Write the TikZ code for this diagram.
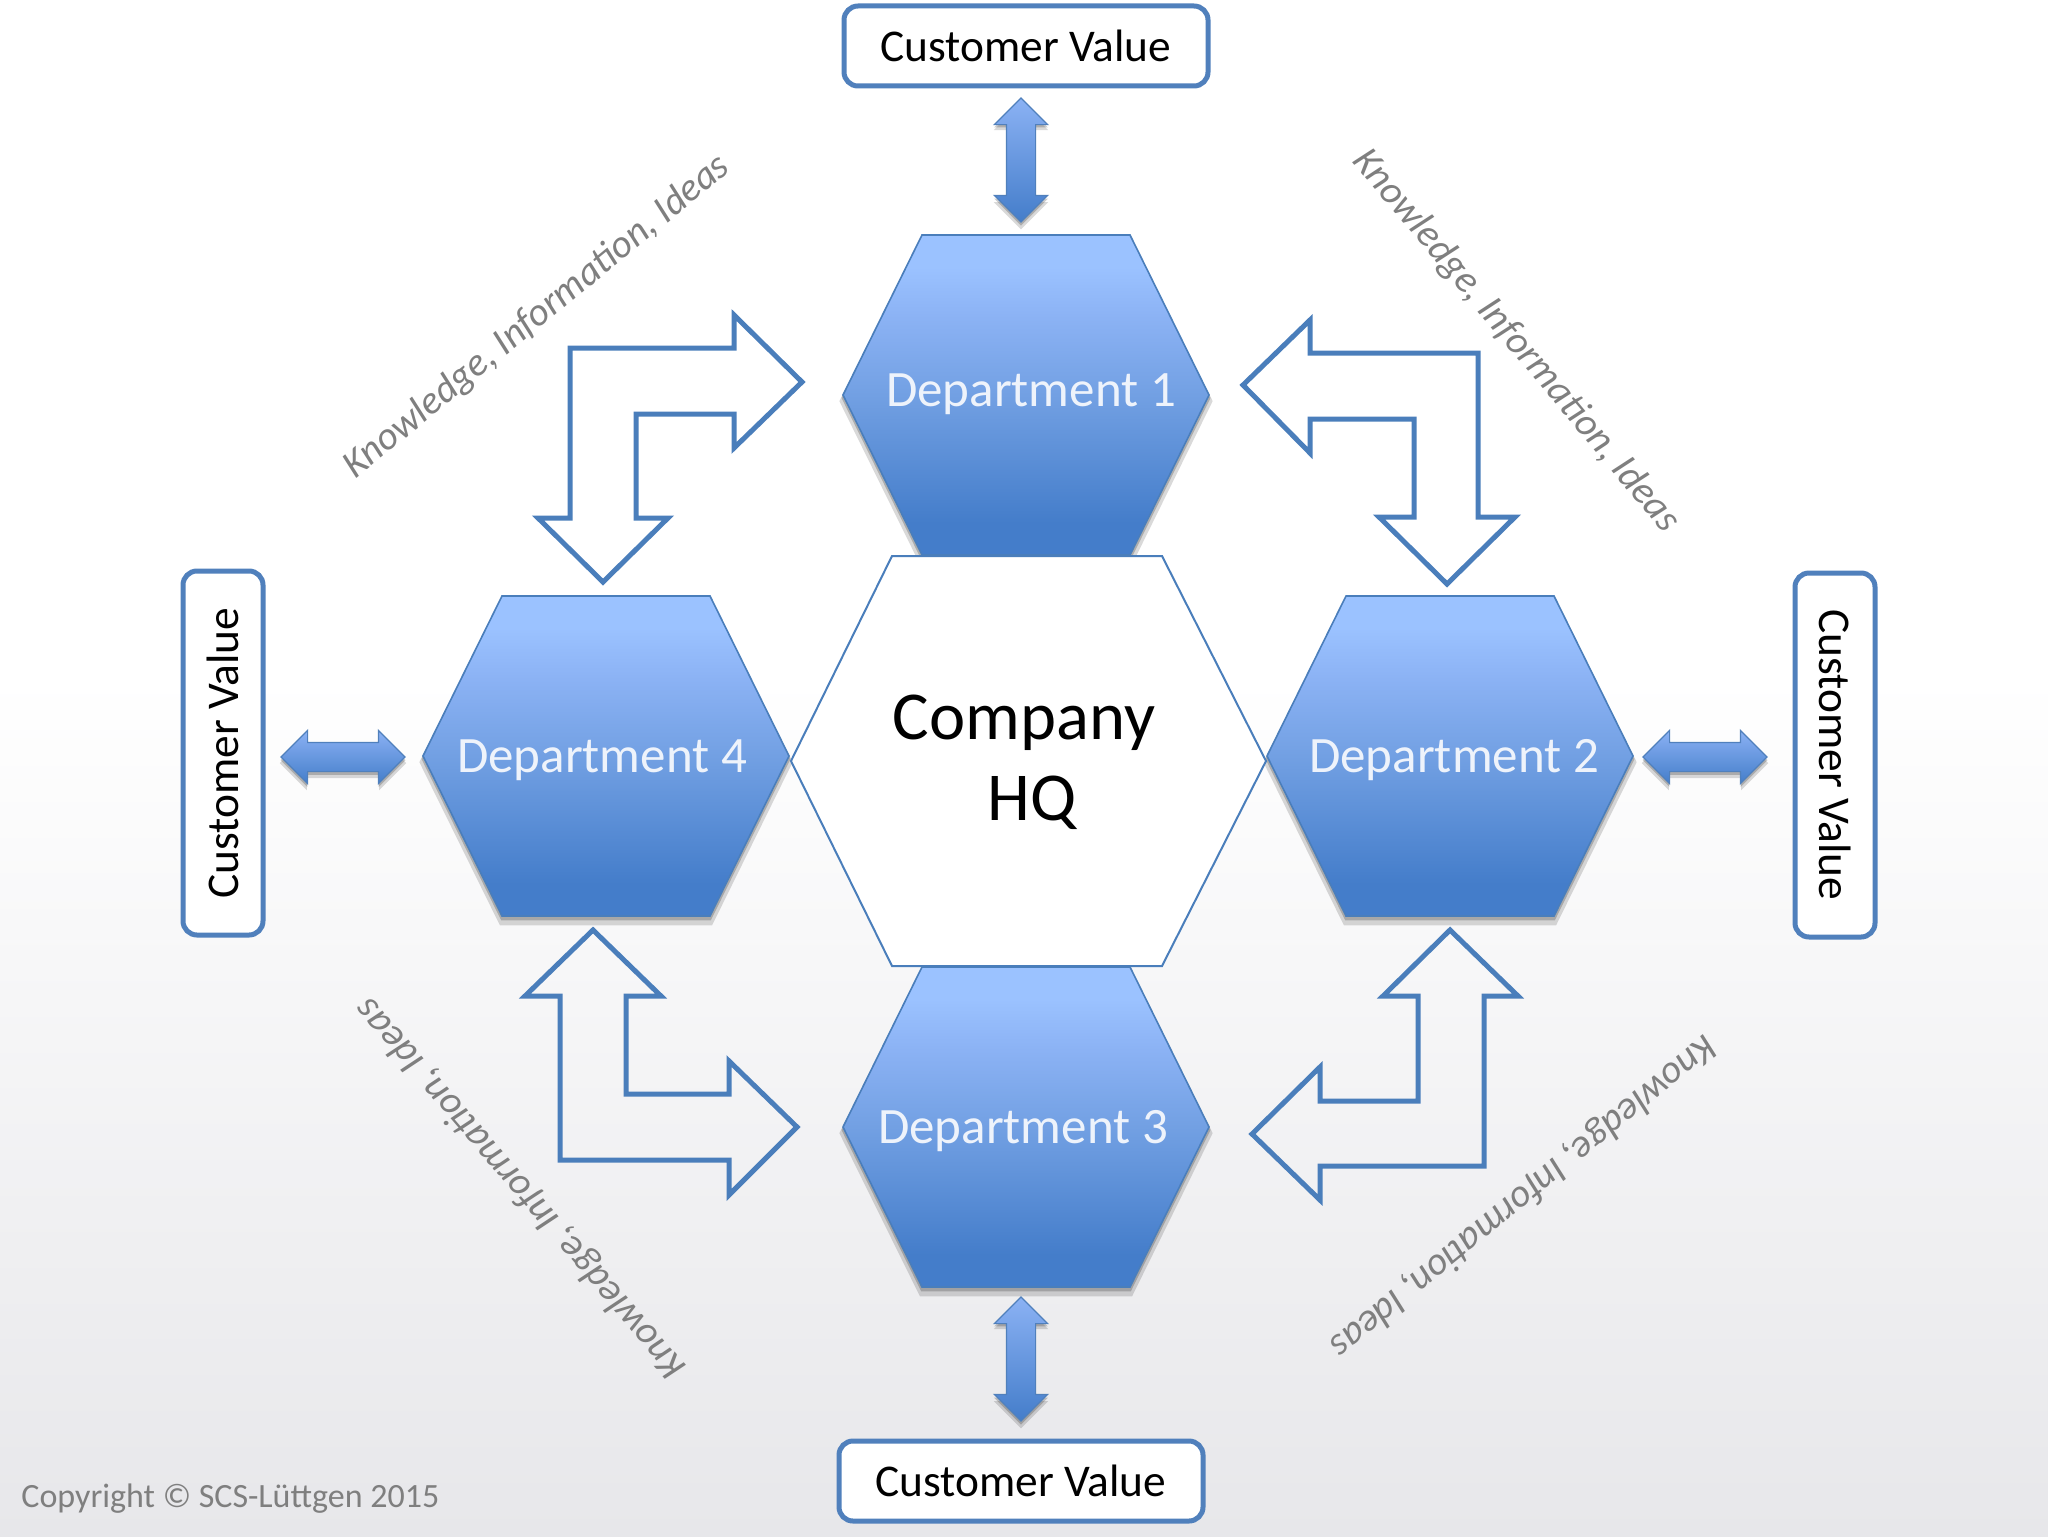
\documentclass[tikz,border=0pt]{standalone}
\usepackage{fontspec}
\setmainfont{Carlito}
\usetikzlibrary{calc,shadows,shapes.arrows}
\definecolor{lineblue}{HTML}{4A7EBB}
\definecolor{boxblue}{HTML}{5080BC}
\definecolor{labelgray}{HTML}{7F7F7F}
\definecolor{deptwhite}{HTML}{EEF3FB}
\definecolor{deptlow}{HTML}{447DCA}
\definecolor{deptmid}{HTML}{72A0E3}
\definecolor{deptup}{HTML}{8BB2F4}
\definecolor{depttop}{HTML}{9BC2FF}
\definecolor{pagelow}{HTML}{E7E7EA}
\pgfdeclareverticalshading{deptfill}{100bp}{color(0bp)=(deptlow); color(30bp)=(deptlow); color(50bp)=(deptmid); color(62bp)=(deptup); color(70bp)=(depttop); color(100bp)=(depttop)}
\pgfdeclareverticalshading{pagefill}{100bp}{color(0bp)=(pagelow); color(25bp)=(pagelow); color(53bp)=(white); color(100bp)=(white)}
\begin{document}
\begin{tikzpicture}[
	x=.5pt, y=-.5pt,
	softshadow/.style = {
		drop shadow={shadow xshift=0pt, shadow yshift=-3pt, shadow scale=1.02, opacity=.15, fill=black},
		drop shadow={shadow xshift=0pt, shadow yshift=-1.5pt, shadow scale=1.008, opacity=.2, fill=black}},
	hexdept/.style  = {draw=lineblue, line width=.8pt, shading=deptfill, softshadow},
	hexhq/.style    = {draw=lineblue, line width=1pt, fill=white},
	deptname/.style = {text=deptwhite, font=\fontsize{25.5}{30}\selectfont, inner sep=0pt},
	valuebox/.style = {draw=boxblue, line width=2.5pt, rounded corners=7pt, fill=white, minimum width=182pt, minimum height=40pt, inner sep=0pt, font=\fontsize{22.7}{26}\selectfont},
	flowlabel/.style = {text=labelgray, inner sep=0pt, font=\fontsize{19.7}{22}\selectfont\itshape},
	valuearrow/.style = {shape=double arrow, draw=boxblue, line width=.6pt, minimum height=62pt, minimum width=26pt, inner xsep=0pt, inner ysep=7pt, double arrow head extend=6pt, double arrow tip angle=90, top color=deptup, bottom color=deptlow, softshadow},
	bendarrow/.style = {draw=lineblue, line width=2.5pt, miter limit=6}]

	\useasboundingbox (0,0) rectangle (2048,1536);
	\path[shading=pagefill] (0,0) rectangle (2048,1536);

	% hexagons, from the left vertex
	\foreach \cx/\cy in {1026/395, 1026/1127, 606/756, 1450/756}
	\path[hexdept] (\cx-183,\cy) -- ++(79,-160) -- ++(208,0) -- ++(79,160) -- ++(-79,160) -- ++(-208,0) -- cycle;

	\path[hexhq] (791,761) -- ++(101,-205) -- ++(270,0) -- ++(104,205) -- ++(-104,205) -- ++(-270,0) -- cycle;

	\node[deptname] (dep1) at (1031,394) {Department 1};
	\node[deptname] (dep2) at (1454,760) {Department 2};
	\node[deptname] (dep3) at (1023,1131) {Department 3};
	\node[deptname] (dep4) at (602,760) {Department 4};
	\node[inner sep=0pt, align=center, font=\fontsize{34.3}{40.5}\selectfont] (hq) at (1024,762) {Company\\\hspace*{8pt}HQ};

	\node[valuebox] (valtop) at (1026,46) {Customer Value};
	\node[valuebox] (valbot) at (1021,1481) {Customer Value};
	\node[valuebox, rotate=90] (valleft) at (223,753) {Customer Value};
	\node[valuebox, rotate=-90] (valright) at (1835,755) {Customer Value};

	\node[valuearrow, rotate=-90] (arrtop) at (1021,160) {};
	\node[valuearrow, rotate=-90] (arrbot) at (1021,1359) {};
	\node[valuearrow] (arrleft) at (343,757) {};
	\node[valuearrow] (arrright) at (1705,757) {};

	% tips of the bent arrows
	\coordinate (tip14) at ($(dep1)+(-229,-12)$);
	\coordinate (tip12) at ($(dep2)+(-211,-375)$);
	\coordinate (tip34) at ($(dep3)+(-226,-4)$);
	\coordinate (tip32) at ($(dep2)+(-4,170)$);

	\draw[bendarrow] (tip14) -- ++(-68,-67) -- ++(0,33) -- ++(-164,0) -- ++(0,170) -- ++(-32,0) -- ++(65,64) -- ++(65,-64) -- ++(-32,0) -- ++(0,-104) -- ++(98,0) -- ++(0,34) -- cycle;
	\draw[bendarrow] (tip12) -- ++(67,-65) -- ++(0,33) -- ++(168,0) -- ++(0,164) -- ++(37,0) -- ++(-68,67) -- ++(-68,-67) -- ++(35,0) -- ++(0,-98) -- ++(-104,0) -- ++(0,34) -- cycle;
	\draw[bendarrow] (tip34) -- ++(-68,-66) -- ++(0,33) -- ++(-103,0) -- ++(0,-98) -- ++(35,0) -- ++(-68,-66) -- ++(-68,66) -- ++(35,0) -- ++(0,164) -- ++(169,0) -- ++(0,35) -- cycle;
	\draw[bendarrow] (tip32) -- ++(68,66) -- ++(-34,0) -- ++(0,170) -- ++(-164,0) -- ++(0,34) -- ++(-68,-66) -- ++(68,-67) -- ++(0,34) -- ++(98,0) -- ++(0,-105) -- ++(-35,0) -- cycle;

	\begin{scope}[every node/.style={flowlabel}]
		\node[rotate=39.4] (know41) at (537,317) {Knowledge, Information, Ideas};
		\node[rotate=-50] (know12) at (1516,341) {Knowledge, Information, Ideas};
		\node[rotate=130.5] (know34) at (521,1188) {Knowledge, Information, Ideas};
		\node[rotate=219.3] (know23) at (1523,1196) {Knowledge, Information, Ideas};
	\end{scope}

	\node[text=labelgray, anchor=west, inner sep=0pt, font=\fontsize{17}{20}\selectfont] (copyright) at (21,1499) {Copyright © SCS-Lüttgen 2015};
\end{tikzpicture}
\end{document}
